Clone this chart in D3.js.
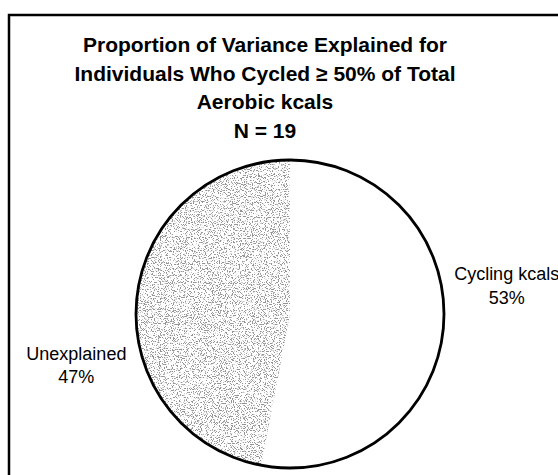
<!DOCTYPE html>
<html>
<head>
<meta charset="utf-8">
<script src="https://cdn.jsdelivr.net/npm/d3@7"></script>
<style>
  body { margin: 0; background: #fff; }
  svg { display: block; font-family: "Liberation Sans", Arial, sans-serif; }
</style>
</head>
<body>
<svg id="chart"></svg>
<script>
const categories = ["Cycling kcals", "Unexplained"];
const values = [53, 47];
const titleLines = [
  "Proportion of Variance Explained for",
  "Individuals Who Cycled \u2265 50% of Total",
  "Aerobic kcals",
  "N = 19"
];

const width = 558;
const height = 475;
const cx = 290, cy = 314, radius = 154;

const svg = d3.select("#chart").attr("width", width).attr("height", height);

// stipple texture for the unexplained slice
const defs = svg.append("defs");
const f = defs.append("filter").attr("id", "stipple")
  .attr("x", "-10%").attr("y", "-10%").attr("width", "120%").attr("height", "120%");
f.append("feTurbulence").attr("type", "fractalNoise").attr("baseFrequency", 0.85)
  .attr("numOctaves", 2).attr("seed", 7).attr("result", "noise");
f.append("feColorMatrix").attr("in", "noise").attr("type", "matrix")
  .attr("values", "0 0 0 0 0.3  0 0 0 0 0.3  0 0 0 0 0.3  -10 0 0 0 4.65")
  .attr("result", "dots");
f.append("feComposite").attr("in", "dots").attr("in2", "SourceGraphic")
  .attr("operator", "in");

// frame (right and bottom edges run off the picture)
svg.append("path")
  .attr("d", d3.line()([[9, height + 5], [9, 15], [width + 5, 15]]))
  .attr("fill", "none")
  .attr("stroke", "#000")
  .attr("stroke-width", 2.5);

// title
svg.append("g").selectAll("text")
  .data(titleLines)
  .join("text")
  .attr("x", 265)
  .attr("y", (d, i) => 52 + i * 28.7)
  .attr("text-anchor", "middle")
  .attr("font-size", 21)
  .attr("font-weight", "bold")
  .text(d => d);

const data = categories.map((c, i) => ({ name: c, value: values[i] }));
const pie = d3.pie().sort(null).value(d => d.value);
const arc = d3.arc().innerRadius(0).outerRadius(radius);
const arcs = pie(data);

const g = svg.append("g").attr("transform", `translate(${cx},${cy})`);

g.selectAll("path.slice")
  .data(arcs)
  .join("path")
  .attr("class", "slice")
  .attr("d", arc)
  .attr("fill", (d, i) => i === 0 ? "#fff" : "#000")
  .attr("filter", (d, i) => i === 0 ? null : "url(#stipple)");

g.append("circle")
  .attr("r", radius)
  .attr("fill", "none")
  .attr("stroke", "#000")
  .attr("stroke-width", 2.8);

// labels outside the pie
const labelArc = d3.arc().innerRadius(radius * 1.4).outerRadius(radius * 1.4);
const nudge = [[2, -54], [1, 66]];
const lbl = g.selectAll("g.label")
  .data(arcs)
  .join("g")
  .attr("class", "label")
  .attr("transform", (d, i) => {
    const [x, y] = labelArc.centroid(d);
    return `translate(${x + nudge[i][0]},${y + nudge[i][1]})`;
  });
lbl.append("text")
  .attr("text-anchor", "middle")
  .attr("font-size", 18)
  .attr("y", 0)
  .text(d => d.data.name);
lbl.append("text")
  .attr("text-anchor", "middle")
  .attr("font-size", 18)
  .attr("y", 23.5)
  .text(d => d.data.value + "%");
</script>
</body>
</html>
